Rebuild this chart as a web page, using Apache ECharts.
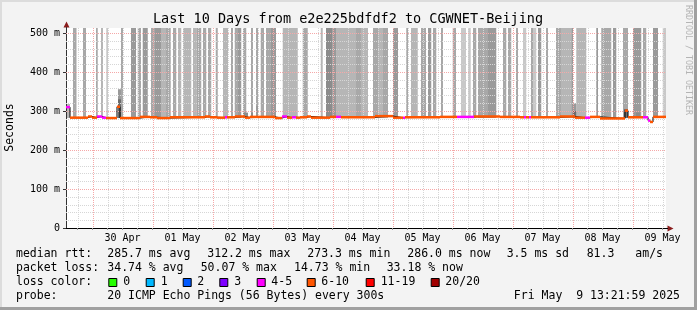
<!DOCTYPE html>
<html><head><meta charset="utf-8">
<script src="https://cdn.jsdelivr.net/npm/echarts@6/dist/echarts.min.js"></script>
<style>html,body{margin:0;padding:0;background:#f3f3f3}#c{width:697px;height:310px}</style>
</head><body><div id="c"></div>
<script>
// ---------- DATA (time in hours since window start: 29 Apr 13:22) ----------
const dayLabels = ['30 Apr','01 May','02 May','03 May','04 May','05 May','06 May','07 May','08 May','09 May'];
const dayLabelHours = [22.63,46.63,70.63,94.63,118.63,142.63,166.63,190.63,214.63,238.63];
const midnightHours = [10.63,34.63,58.63,82.63,106.63,130.63,154.63,178.63,202.63,226.63];
const yTickValues = [0,100,200,300,400,500];

// smoke (grey band) bars: from, to, shade level
const smokeFrom = [2.8,6.8,12.0,14.0,16.1,22.0,26.0,28.7,30.7,34.0,35.6,38.0,40.0,42.8,44.8,46.8,50.8,52.1,54.8,56.8,59.9,62.8,66.0,67.5,68.8,70.8,74.0,76.0,77.9,80.0,82.0,86.7,88.0,94.7,101.9,104.0,106.7,108.0,116.0,118.0,122.8,124.8,126.8,130.8,136.1,138.0,142.0,144.8,146.8,150.0,154.7,158.0,160.8,162.8,164.8,168.8,174.8,176.8,180.0,182.8,186.0,186.8,188.8,192.0,196.0,198.0,202.1,204.1,212.1,214.1,218.8,222.8,226.8,230.8,234.8,238.7];
const smokeTo   = [4.2,8.0,12.7,14.8,16.8,22.8,28.0,30.0,32.7,35.6,38.0,40.0,41.9,44.1,46.1,50.1,52.1,54.1,56.1,58.1,60.7,64.8,66.8,68.8,70.1,72.1,74.8,76.8,79.2,82.0,84.0,88.0,92.7,96.7,102.7,106.7,108.0,116.0,118.0,120.8,124.8,126.8,128.8,132.8,136.8,140.7,144.0,146.1,148.1,150.8,156.0,160.0,161.9,164.1,168.8,172.1,176.1,178.1,180.8,184.1,186.8,188.1,190.1,192.8,198.0,202.1,202.8,208.1,212.8,218.1,220.1,224.8,230.1,232.1,236.8,240.0];
const smokeShade= [2,2,2,1,0,2,3,2,3,2,3,1,2,2,1,1,1,2,2,2,2,1,2,2,3,2,2,2,2,2,3,1,1,2,1,4,3,1,2,1,2,1,2,3,2,1,2,3,2,2,2,0,0,2,2,3,2,2,2,0,2,0,3,2,2,1,3,1,3,2,3,2,3,2,3,0];
const SMOKE_TOP = 700; // smoke runs past the top of the graph

// shorter smoke peaks: from, to, top (ms), shade level
const peakFrom  = [0.4,20.8,20.8,70.8,74.0,76.0,202.8,202.8,223.2,228.0];
const peakTo    = [1.6,22.0,22.0,72.8,74.8,76.8,204.1,204.1,224.8,229.6];
const peakTop   = [318,356,330,296,296,313,320,300,305,296];
const peakShade = [1,3,5,4,4,3,3,5,5,4];

// median rtt (ms) steps and loss bucket
const medT = [0,1.6,8.8,10.4,12.4,14.4,16.0,20.4,21.6,29.6,33.6,36.4,41.6,55.6,57.6,60.4,63.6,64.4,67.6,71.6,73.6,83.6,86.4,88.4,90.4,92.0,93.6,96.4,98.0,105.6,108.0,110.0,123.6,130.8,134.8,135.6,149.6,156.4,163.2,173.6,181.6,183.2,184.0,185.2,186.0,197.6,203.6,207.6,209.6,213.6,223.6,224.8,230.8,232.8,233.6,234.8];
const medV = [310,283,286,283,286,283,282,311,282,285,284,282,284,286,284,283,284,284,286,283,285,282,286,283,284,283,284,286,283,285,285,284,287,283,283,284,285,285,286,285,284,284,284,284,284,286,283,283,285,281,301,284,284,276,272,285];
const medLoss = [4,5,5,5,4,4,5,5,5,5,5,5,5,5,5,5,4,5,5,5,5,5,4,5,4,5,5,5,5,5,4,5,5,5,4,5,5,4,5,5,5,4,5,4,5,5,5,4,5,5,5,5,4,4,5,5];
const WINDOW_END = 240;

const lossColors = ['#26ff00','#00b8ff','#0059ff','#7e00ff','#ff00ff','#ff5500','#ff0000','#a10000'];
const lossNames  = ['0','1','2','3','4-5','6-10','11-19','20/20'];

const titleText = 'Last 10 Days from e2e225bdfdf2 to CGWNET-Beijing';
const medianStats = ['285.7 ms avg','312.2 ms max','273.3 ms min','286.0 ms now','3.5 ms sd','81.3','am/s'];
const lossStats = ['34.74 % avg','50.07 % max','14.73 % min','33.18 % now'];
const probeText = '20 ICMP Echo Pings (56 Bytes) every 300s';
const dateText = 'Fri May  9 13:21:59 2025';

// ---------- STYLE / LAYOUT ----------
const FONT = '"DejaVu Sans Mono", monospace';
const shadeColors = ['#c8c8c8','#b6b6b6','#a8a8a8','#9a9a9a','#8c8c8c','#6c6c6c'];
const SMOKE_BASE = 282;
const medianStatX = [107.3,207.3,307.3,407.3,506.7,586.7,635.3];
const lossStatX = [107.3,200.7,294,386.7];
const boxX = [108.3,145.7,182.7,219.3,256.7,306.7,365.7,430.7];
const boxLabelX = [123.3,160.7,197.3,234.3,271.3,321.3,380.7,445.3];
const rowY = [254.3,268.3,282.3,296.3];
const MINOR_GRID = '#d6d6d6', MAJOR_GRID = '#f5a8a8';

const minorV = [];
for (let h = 4.63; h < 240; h += 6) if (!midnightHours.some(m => Math.abs(m - h) < 0.01)) minorV.push(h);
const minorH = [];
for (let v = 20; v < 513; v += 20) if (v % 100 !== 0) minorH.push(v);

const chart = echarts.init(document.getElementById('c'), null, {renderer:'canvas'});

function rectItem(params, api, x0, x1, y0, y1, color) {
  const p0 = api.coord([x0, y0]), p1 = api.coord([x1, y1]);
  const cs = params.coordSys;
  const shape = echarts.graphic.clipRectByRect({x:p0[0], y:p1[1], width:p1[0]-p0[0], height:p0[1]-p1[1]},
    {x:cs.x, y:cs.y, width:cs.width, height:cs.height});
  return shape && {type:'rect', shape, style:{fill:color}};
}

const smokeData = smokeFrom.map((f,i)=>[f, smokeTo[i], SMOKE_TOP, smokeShade[i]]);
const peakData = peakFrom.map((f,i)=>[f, peakTo[i], peakTop[i], peakShade[i]]);
const medLine = medT.map((t,i)=>[t, medV[i]]).concat([[WINDOW_END, medV[medV.length-1]]]);
const medSeg = medT.map((t,i)=>[t, i+1<medT.length?medT[i+1]:WINDOW_END, medV[i], medLoss[i]]);

const vGrid = minorV.map(h=>[h,0]).concat(midnightHours.map(h=>[h,1]));
const hGrid = minorH.map(v=>[v,0]).concat([100,200,300,400,500].map(v=>[v,1]));

const txt = (x,y,text,extra) => Object.assign({type:'text', x, y, silent:true,
  style:Object.assign({text, font:'11.5px '+FONT, fill:'#000', verticalAlign:'middle', align:'left'}, extra||{})});

const graphics = [
  {type:'rect', shape:{x:0,y:0,width:697,height:2}, style:{fill:'#dcdcdc'}},
  {type:'rect', shape:{x:0,y:0,width:2,height:310}, style:{fill:'#dcdcdc'}},
  {type:'rect', shape:{x:694,y:0,width:3,height:310}, style:{fill:'#a0a0a0'}},
  {type:'rect', shape:{x:0,y:307,width:697,height:3}, style:{fill:'#a0a0a0'}},
  txt(348,19.5,titleText,{font:'13.5px '+FONT, align:'center'}),
  Object.assign(txt(10.5,127.5,'Seconds',{align:'center'}),{rotation:Math.PI/2}),
  Object.assign(txt(688,60,'RRDTOOL / TOBI OETIKER',{align:'center', font:'8.3px '+FONT, fill:'#b4b4b4'}),{rotation:-Math.PI/2}),
  {type:'polygon', shape:{points:[[66.5,21.5],[63.5,27.5],[69.5,27.5]]}, style:{fill:'#8a1c1c'}},
  {type:'polygon', shape:{points:[[673.5,228.5],[667.5,225.5],[667.5,231.5]]}, style:{fill:'#8a1c1c'}},
  {type:'line', shape:{x1:66.5,y1:27,x2:66.5,y2:28}, style:{stroke:'#333',lineWidth:1}},
  {type:'line', shape:{x1:666,y1:228.5,x2:668,y2:228.5}, style:{stroke:'#000',lineWidth:1}},
  txt(16,rowY[0],'median rtt:'),
  txt(16,rowY[1],'packet loss:'),
  txt(16,rowY[2],'loss color:'),
  txt(16,rowY[3],'probe:'),
  txt(107.3,rowY[3],probeText),
  txt(680,rowY[3],dateText,{align:'right'})
];
medianStats.forEach((s,i)=>graphics.push(txt(medianStatX[i],rowY[0],s)));
lossStats.forEach((s,i)=>graphics.push(txt(lossStatX[i],rowY[1],s)));
lossNames.forEach((s,i)=>{
  graphics.push({type:'rect', shape:{x:boxX[i]+0.5,y:278.5,width:8,height:8}, style:{fill:lossColors[i],stroke:'#000',lineWidth:1}});
  graphics.push(txt(boxLabelX[i],rowY[2],s));
});

const option = {
  backgroundColor:'#f3f3f3',
  animation:false,
  grid:{left:66,right:31,top:28,bottom:82,show:true,backgroundColor:'#ffffff',borderWidth:0},
  xAxis:{type:'value',min:0,max:240,
    axisLine:{show:true,lineStyle:{color:'#000',width:1}},
    axisTick:{show:true,customValues:minorV.concat(midnightHours),length:2,lineStyle:{color:'#999'}},
    splitLine:{show:false},
    axisLabel:{customValues:dayLabelHours,margin:5,fontFamily:'DejaVu Sans Mono',fontSize:10,color:'#000',
      formatter:v=>{const i=dayLabelHours.findIndex(h=>Math.abs(h-v)<0.01);return i>=0?dayLabels[i]:'';}}},
  yAxis:{type:'value',min:0,max:513,
    axisLine:{show:true,lineStyle:{color:'#333',width:1}},
    axisTick:{show:true,customValues:yTickValues,length:3,lineStyle:{color:'#333'}},
    splitLine:{show:false},
    axisLabel:{customValues:yTickValues,margin:6,fontFamily:'DejaVu Sans Mono',fontSize:10,color:'#000',
      formatter:v=>v===0?'0':v+' m'}},
  graphic:graphics,
  series:[
    {type:'custom',silent:true,z:1,data:smokeData,
      renderItem:(p,api)=>rectItem(p,api,api.value(0),api.value(1),SMOKE_BASE,api.value(2),shadeColors[api.value(3)])},
    {type:'custom',silent:true,z:2,data:peakData,
      renderItem:(p,api)=>rectItem(p,api,api.value(0),api.value(1),SMOKE_BASE,api.value(2),shadeColors[api.value(3)])},
    {type:'custom',silent:true,z:3,data:vGrid,
      renderItem:(p,api)=>{const cs=p.coordSys;const x=Math.round(api.coord([api.value(0),0])[0])+0.5;
        return {type:'line',shape:{x1:x,y1:cs.y,x2:x,y2:cs.y+cs.height},
          style:{stroke:api.value(1)?MAJOR_GRID:MINOR_GRID,lineWidth:1,lineDash:[1,1]}};}},
    {type:'custom',silent:true,z:3,data:hGrid,
      renderItem:(p,api)=>{const cs=p.coordSys;const y=Math.round(api.coord([0,api.value(0)])[1])+0.5;
        return {type:'line',shape:{x1:cs.x,y1:y,x2:cs.x+cs.width,y2:y},
          style:{stroke:api.value(1)?MAJOR_GRID:MINOR_GRID,lineWidth:1,lineDash:[1,1]}};}},
    {type:'line',silent:true,z:4,data:medLine,step:'end',showSymbol:false,symbol:'none',
      lineStyle:{color:'#000',width:1}},
    {type:'custom',silent:true,z:5,data:medSeg,
      renderItem:(p,api)=>{const a=api.coord([api.value(0),api.value(2)]),b=api.coord([api.value(1),api.value(2)]);
        return {type:'rect',shape:{x:a[0],y:a[1]-1.25,width:b[0]-a[0],height:2.5},style:{fill:lossColors[api.value(3)]}};}}
  ]
};
chart.setOption(option);
</script></body></html>
